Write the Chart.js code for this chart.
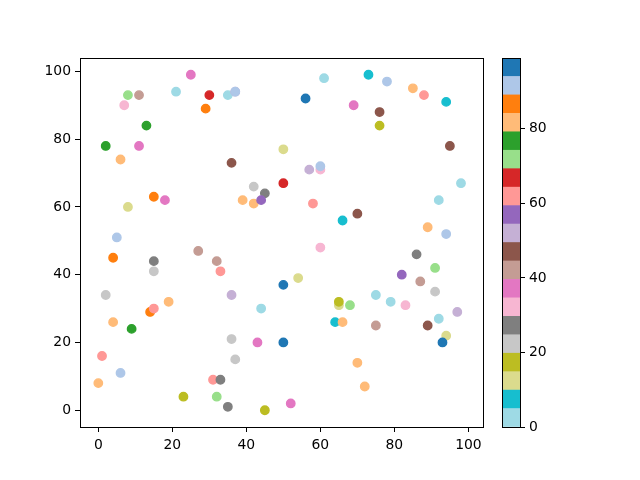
<!DOCTYPE html>
<html>
<head>
<meta charset="utf-8">
<script src="https://cdn.jsdelivr.net/npm/chart.js@4/dist/chart.umd.min.js"></script>
<style>
  body { margin: 0; background: #fff; }
  #wrap { position: relative; width: 640px; height: 480px; }
  canvas { position: absolute; top: 0; }
</style>
</head>
<body>
<div id="wrap">
  <canvas id="main" width="500" height="480" style="left:0"></canvas>
  <canvas id="cbar" width="160" height="480" style="left:480px"></canvas>
</div>
<script>
// scatter data
const xValues = [25, 21, 30, 29, 8, 11, 7, 13, 2, 11, 6, 15, 18, 8, 5, 35, 37, 37, 61, 56,
  69, 50, 36, 57, 60, 60, 42, 50, 45, 39, 42, 44, 58, 66, 60, 73, 78, 85, 88, 94,
  76, 76, 95, 98, 92, 70, 89, 94, 4, 15, 15, 27, 32, 33, 2, 19, 14, 15, 4, 9,
  1, 6, 0, 31, 33, 23, 32, 50, 54, 36, 44, 65, 65, 68, 64, 66, 36, 43, 50, 37,
  35, 45, 52, 86, 91, 82, 87, 91, 75, 79, 83, 97, 92, 89, 75, 94, 93, 70, 72];
const yValues = [99, 94, 93, 89, 93, 93, 90, 84, 78, 78, 74, 63, 62, 60, 51, 93, 94, 94, 98, 92,
  90, 77, 73, 71, 71, 72, 66, 67, 64, 62, 61, 62, 61, 56, 48, 99, 97, 95, 93, 91,
  88, 84, 78, 67, 62, 58, 54, 52, 45, 44, 41, 47, 44, 41, 34, 32, 29, 30, 26, 24,
  16, 11, 8, 9, 9, 4, 4, 37, 39, 34, 30, 31, 32, 31, 26, 26, 21, 20, 20, 15,
  1, 0, 2, 46, 42, 40, 38, 35, 34, 32, 31, 29, 27, 25, 25, 22, 20, 14, 7];
const colorValues = [37, 2, 67, 87, 72, 42, 32, 77, 77, 37, 82, 87, 37, 12, 92, 2, 52, 92, 2, 97,
  37, 12, 47, 52, 32, 92, 22, 67, 27, 82, 82, 57, 62, 7, 32, 7, 92, 82, 62, 7,
  47, 17, 47, 2, 2, 47, 82, 92, 87, 27, 22, 42, 42, 62, 22, 82, 87, 62, 82, 77,
  62, 92, 82, 62, 27, 17, 72, 97, 12, 52, 2, 12, 17, 72, 7, 82, 22, 37, 97, 22,
  27, 17, 37, 27, 72, 57, 42, 22, 2, 2, 32, 52, 2, 47, 42, 12, 97, 82, 82];

const xTicks = [0, 20, 40, 60, 80, 100];
const yTicks = [0, 20, 40, 60, 80, 100];
const cbarTicks = [0, 20, 40, 60, 80];
const cbarMin = 0;
const cbarMax = 99;

// tab20 reversed
const tab20 = ['#1f77b4', '#aec7e8', '#ff7f0e', '#ffbb78', '#2ca02c', '#98df8a', '#d62728', '#ff9896',
  '#9467bd', '#c5b0d5', '#8c564b', '#c49c94', '#e377c2', '#f7b6d2', '#7f7f7f', '#c7c7c7',
  '#bcbd22', '#dbdb8d', '#17becf', '#9edae5'];
const cmap = tab20.slice().reverse();

function colorFor(v) {
    let i = Math.floor((v - cbarMin) / (cbarMax - cbarMin) * cmap.length);
    i = Math.max(0, Math.min(cmap.length - 1, i));
    return cmap[i];
}

const font = { family: 'DejaVu Sans', size: 13.9 };

// draws the black box around a plot area
const framePlugin = {
    id: 'frame',
    afterDraw(chart) {
        const a = chart.chartArea;
        const c = chart.ctx;
        c.save();
        c.strokeStyle = '#000';
        c.lineWidth = 1;
        c.strokeRect(Math.round(a.left) + 0.5, Math.round(a.top) + 0.5,
            Math.round(a.right - a.left), Math.round(a.bottom - a.top));
        c.restore();
    }
};

function fixedTicks(list) {
    return function(axis) { axis.ticks = list.map(v => ({ value: v })); };
}

const axisGrid = { drawOnChartArea: false, drawTicks: true, tickLength: 5, color: '#000', lineWidth: 1 };

const points = xValues.map((x, i) => ({ x: x, y: yValues[i] }));
const colors = colorValues.map(colorFor);

new Chart(document.getElementById('main'), {
    type: 'scatter',
    data: {
        datasets: [{
            data: points,
            pointRadius: 4.2,
            pointHoverRadius: 4.2,
            pointBorderWidth: 1.4,
            pointBackgroundColor: colors,
            pointBorderColor: colors
        }]
    },
    options: {
        responsive: false,
        animation: false,
        layout: { padding: { left: 0, top: 58, right: 17, bottom: 0 } },
        plugins: { legend: { display: false }, tooltip: { enabled: false } },
        scales: {
            x: {
                type: 'linear', min: -4.95, max: 103.95,
                afterBuildTicks: fixedTicks(xTicks),
                afterFit: s => { s.height = 53; },
                grid: axisGrid,
                border: { display: false },
                ticks: { color: '#000', font: font, padding: 5, maxRotation: 0 }
            },
            y: {
                type: 'linear', min: -4.95, max: 103.95,
                afterBuildTicks: fixedTicks(yTicks),
                afterFit: s => { s.width = 80; },
                grid: axisGrid,
                border: { display: false },
                ticks: { color: '#000', font: font, padding: 4 }
            }
        }
    },
    plugins: [framePlugin]
});

// colorbar as floating bars, one per colour
const step = (cbarMax - cbarMin) / cmap.length;
const cbarSets = cmap.map((col, i) => ({
    data: [[cbarMin + i * step, cbarMin + (i + 1) * step]],
    backgroundColor: col,
    borderWidth: 0,
    grouped: false,
    barPercentage: 1,
    categoryPercentage: 1
}));

new Chart(document.getElementById('cbar'), {
    type: 'bar',
    data: { labels: [''], datasets: cbarSets },
    options: {
        responsive: false,
        animation: false,
        layout: { padding: { left: 22, top: 58, right: 0, bottom: 53 } },
        plugins: { legend: { display: false }, tooltip: { enabled: false } },
        scales: {
            x: { display: false },
            y: {
                position: 'right', min: cbarMin, max: cbarMax,
                afterBuildTicks: fixedTicks(cbarTicks),
                afterFit: s => { s.width = 120; },
                grid: axisGrid,
                border: { display: false },
                ticks: { color: '#000', font: font, padding: 4 }
            }
        }
    },
    plugins: [framePlugin]
});
</script>
</body>
</html>
